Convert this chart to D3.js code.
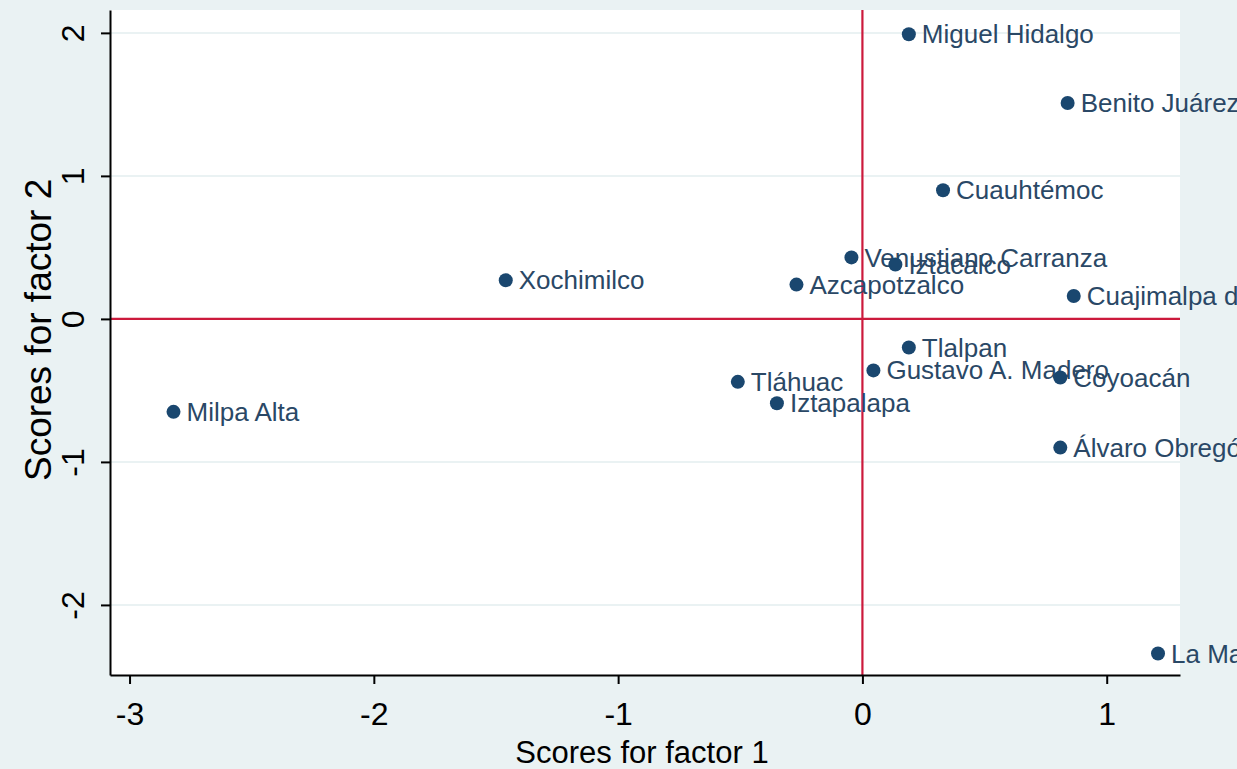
<!DOCTYPE html>
<html>
<head>
<meta charset="utf-8">
<script src="https://cdn.jsdelivr.net/npm/d3@7"></script>
<style>
  body { margin: 0; background: #eaf2f3; }
  svg { display: block; font-family: "Liberation Sans", Arial, sans-serif; }
</style>
</head>
<body>
<div id="chart"></div>
<script>
"use strict";

// municipality names and their factor scores
const names = [
  "Miguel Hidalgo", "Benito Juárez", "Cuauhtémoc", "Venustiano Carranza",
  "Iztacalco", "Xochimilco", "Azcapotzalco", "Cuajimalpa de Morelos",
  "Tlalpan", "Gustavo A. Madero", "Coyoacán", "Tláhuac", "Iztapalapa",
  "Milpa Alta", "Álvaro Obregón", "La Magdalena Contreras"
];
const factor1 = [0.19, 0.84, 0.33, -0.045, 0.135, -1.46, -0.27, 0.865,
  0.19, 0.045, 0.81, -0.51, -0.35, -2.82, 0.81, 1.21];
const factor2 = [1.99, 1.51, 0.90, 0.43, 0.38, 0.27, 0.24, 0.16,
  -0.20, -0.36, -0.41, -0.44, -0.59, -0.65, -0.90, -2.34];

const xTicks = [-3, -2, -1, 0, 1];
const yTicks = [-2, -1, 0, 1, 2];

const values = names.map(function (n, i) {
  return { name: n, f1: factor1[i], f2: factor2[i] };
});

// dimensions
var margin = { top: 10, right: 57, bottom: 94, left: 110 },
  width = 1237 - margin.left - margin.right,
  height = 769 - margin.top - margin.bottom;

var x = d3.scaleLinear().domain([-3.08, 1.30]).range([0, width]);
var y = d3.scaleLinear().domain([-2.49, 2.16]).range([height, 0]);

// plain "-3" style labels, like Stata
var fmt = function (d) { return String(d); };

var root = d3.select("#chart")
  .append("svg")
  .attr("width", 1237)
  .attr("height", 769);

root.append("rect")
  .attr("width", 1237).attr("height", 769)
  .attr("fill", "#eaf2f3");

var svg = root.append("g")
  .attr("transform", "translate(" + margin.left + "," + margin.top + ")");

// plot region
svg.append("rect")
  .attr("width", width).attr("height", height)
  .attr("fill", "#ffffff");

// light grid lines
svg.selectAll(".grid")
  .data(yTicks.filter(function (t) { return t !== 0; }))
  .enter().append("line")
  .attr("class", "grid")
  .attr("x1", 0).attr("x2", width)
  .attr("y1", function (d) { return y(d); })
  .attr("y2", function (d) { return y(d); })
  .attr("stroke", "#eaf2f3")
  .attr("stroke-width", 2);

// red reference lines at 0
svg.append("line")
  .attr("x1", 0).attr("x2", width)
  .attr("y1", y(0)).attr("y2", y(0))
  .attr("stroke", "#cc1a3c").attr("stroke-width", 2.2);
svg.append("line")
  .attr("x1", x(0)).attr("x2", x(0))
  .attr("y1", 0).attr("y2", height)
  .attr("stroke", "#cc1a3c").attr("stroke-width", 2.2);

// axes
var xAxis = svg.append("g")
  .attr("transform", "translate(0," + height + ")")
  .call(d3.axisBottom(x).tickValues(xTicks).tickFormat(fmt)
    .tickSize(9).tickPadding(18).tickSizeOuter(0));
var yAxis = svg.append("g")
  .call(d3.axisLeft(y).tickValues(yTicks).tickFormat(fmt)
    .tickSize(9).tickSizeOuter(0));

[xAxis, yAxis].forEach(function (a) {
  a.select(".domain").attr("stroke", "#000").attr("stroke-width", 2);
  a.selectAll(".tick line").attr("stroke", "#000").attr("stroke-width", 2);
  a.selectAll(".tick text")
    .attr("fill", "#000")
    .style("font-size", "32px")
    .style("font-family", "'Liberation Sans', Arial, sans-serif");
});
xAxis.selectAll(".tick text").attr("dy", "0.71em");

// rotate y tick labels
yAxis.selectAll(".tick text")
  .attr("x", null).attr("dy", null)
  .attr("text-anchor", "middle")
  .attr("transform", "translate(-37,0) rotate(-90)")
  .attr("dy", "0.35em");

// axis titles
svg.append("text")
  .attr("x", width / 2 - 3)
  .attr("y", height + 88)
  .attr("text-anchor", "middle")
  .attr("fill", "#000")
  .style("font-size", "31px")
  .text("Scores for factor 1");

svg.append("text")
  .attr("transform", "translate(" + (-72) + "," + (y(0) + 11) + ") rotate(-90)")
  .attr("text-anchor", "middle")
  .attr("dy", "0.35em")
  .attr("fill", "#000")
  .style("font-size", "37px")
  .text("Scores for factor 2");

// points with labels
var pts = svg.selectAll(".pt")
  .data(values)
  .enter().append("g")
  .attr("class", "pt")
  .attr("transform", function (d) {
    return "translate(" + x(d.f1) + "," + y(d.f2) + ")";
  });

pts.append("circle")
  .attr("r", 7)
  .attr("fill", "#1a476f");

pts.append("text")
  .attr("x", 13)
  .attr("dy", "0.35em")
  .attr("fill", "#2a4866")
  .style("font-size", "26px")
  .text(function (d) { return d.name; });
</script>
</body>
</html>
